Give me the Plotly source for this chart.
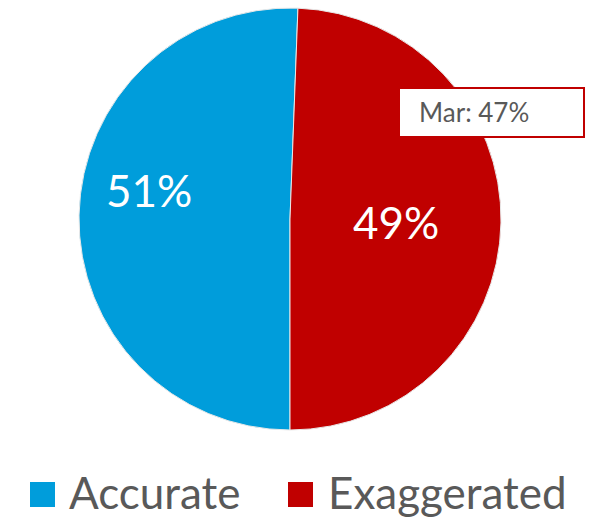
import plotly.graph_objects as go

labels = ["Accurate", "Exaggerated"]
values = [50.6, 49.4]
colors = ["#009DDB", "#C00000"]
callout_text = "Mar: 47%"

W, H = 590, 518
FONT = "Lato"
GREY = "#595959"

fig = go.Figure()
fig.add_trace(go.Pie(
    labels=labels, values=values, sort=False, direction="clockwise", rotation=180,
    marker=dict(colors=colors, line=dict(color="#E8E8E8", width=1)),
    textinfo="none", hoverinfo="label+percent", showlegend=False,
    domain=dict(x=[79 / W, 501 / W], y=[1 - 430 / H, 1 - 8 / H]),
))

total = sum(values)
pct = [f"{round(v / total * 100)}%" for v in values]
label_pos = [(149, 190), (396, 222)]
for t, (px, py) in zip(pct, label_pos):
    fig.add_annotation(x=px / W, y=1 - py / H, xref="paper", yref="paper", text=t,
                       showarrow=False, font=dict(family=FONT, size=44, color="white"),
                       xanchor="center", yanchor="middle")

# callout box
fig.add_shape(type="rect", xref="paper", yref="paper",
              x0=399 / W, x1=584 / W, y0=1 - 137 / H, y1=1 - 88 / H,
              line=dict(color="#C00000", width=2), fillcolor="white", layer="above")
fig.add_annotation(x=417 / W, y=1 - 112 / H, xref="paper", yref="paper", text=callout_text,
                   showarrow=False, font=dict(family=FONT, size=26, color=GREY),
                   xanchor="left", yanchor="middle")

# legend
leg = [(30, 67), (288, 326)]
for lab, col, (sx, tx) in zip(labels, colors, leg):
    fig.add_shape(type="rect", xref="paper", yref="paper",
                  x0=sx / W, x1=(sx + 25) / W, y0=1 - 507 / H, y1=1 - 482 / H,
                  line=dict(width=0), fillcolor=col)
    fig.add_annotation(x=tx / W, y=1 - 492 / H, xref="paper", yref="paper", text=lab,
                       showarrow=False, font=dict(family=FONT, size=44, color=GREY),
                       xanchor="left", yanchor="middle")

fig.update_layout(width=W, height=H, margin=dict(l=0, r=0, t=0, b=0),
                  paper_bgcolor="white", plot_bgcolor="white")
fig.write_html("out.html", config={"displayModeBar": False},
               post_script="document.body.style.margin='0';document.body.style.overflow='hidden';")
